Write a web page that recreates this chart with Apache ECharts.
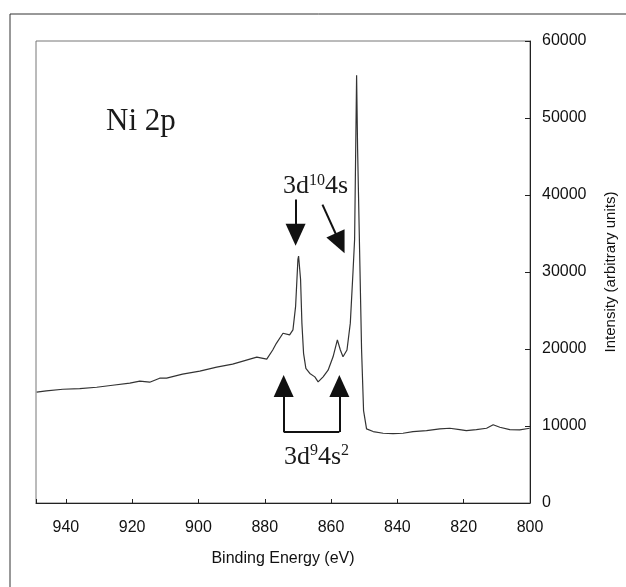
<!DOCTYPE html>
<html>
<head>
<meta charset="utf-8">
<script src="https://cdn.jsdelivr.net/npm/echarts@6/dist/echarts.min.js"></script>
<style>
  html, body { margin: 0; padding: 0; background: #fff; }
  #map { width: 626px; height: 587px; }
</style>
</head>
<body>
<div id="map"></div>
<script>
// Ni 2p XPS spectrum
const energy = [948.8, 945.9, 940.9, 935.8, 930.7, 925.9, 920.7, 917.7, 914.7, 911.7,
  909.6, 904.8, 899.6, 894.5, 889.7, 887.6, 884.5, 882.4, 879.4, 877.6,
  876.5, 874.5, 872.5, 871.5, 870.7, 870.0, 869.8, 869.2, 868.8, 868.3,
  867.6, 866.4, 864.9, 863.9, 862.4, 860.9, 859.4, 858.1, 857.2, 856.4,
  855.2, 854.2, 853.4, 852.9, 852.3, 852.0, 851.4, 850.8, 850.2, 849.3,
  847.3, 844.3, 841.3, 838.3, 835.3, 831.2, 827.2, 824.2, 821.2, 819.2,
  816.2, 813.1, 811.1, 809.1, 806.1, 803.1, 800.1];
const intensity = [14400, 14550, 14770, 14860, 15030, 15290, 15560, 15820, 15690, 16210,
  16210, 16730, 17120, 17650, 18040, 18300, 18690, 18950, 18690, 19870,
  20740, 22050, 21830, 22480, 25530, 31630, 32070, 29020, 23360, 19440,
  17480, 16820, 16380, 15730, 16380, 17250, 18990, 21180, 19870, 18990,
  19870, 23360, 29900, 34250, 55560, 46000, 32900, 19900, 12000, 9630,
  9280, 9060, 9020, 9060, 9280, 9410, 9630, 9710, 9540, 9410,
  9540, 9710, 10160, 9840, 9540, 9500, 9710];

// annotations (data coordinates)
const labelTexts = ['{n|3d}{s|10}{n|4s}', '{n|3d}{s|9}{n|4s}{s|2}'];
const labelCoords = [[864.7, 41090], [864.4, 5980]];
const arrowLines = [
  [[870.7, 39400], [870.7, 34850]],
  [[862.6, 38750], [857.3, 33730]],
  [[874.3, 9230], [874.3, 15210]],
  [[857.5, 9230], [857.5, 15210]]
];
const bracketLine = [[874.3, 9230], [857.5, 9230]];

const sansFont = 'Liberation Sans';
const serifFont = 'Liberation Serif';

let markLines = arrowLines.map(function (l) {
  return [{ coord: l[0], symbol: 'none' }, { coord: l[1], symbol: 'triangle' }];
});
markLines.push([{ coord: bracketLine[0], symbol: 'none' }, { coord: bracketLine[1], symbol: 'none' }]);

let option = {
  animation: false,
  title: {
    text: 'Ni 2p',
    left: 106,
    top: 106,
    padding: 0,
    textStyle: { fontFamily: serifFont, fontSize: 31, fontWeight: 'normal', color: '#1a1a1a' }
  },
  grid: {
    left: 36, right: 93, top: 41, bottom: 84,
    show: true, borderColor: '#777', borderWidth: 1
  },
  xAxis: {
    type: 'value',
    inverse: true,
    min: 800,
    max: 949,
    interval: 20,
    name: 'Binding Energy (eV)',
    nameLocation: 'middle',
    nameGap: 48,
    nameTextStyle: { fontFamily: sansFont, fontSize: 16, color: '#111' },
    axisLine: { show: true, lineStyle: { color: '#222', width: 1 } },
    axisTick: { show: true, inside: true, length: 4, lineStyle: { color: '#222' } },
    axisLabel: {
      margin: 17,
      fontFamily: sansFont, fontSize: 16, color: '#111',
      formatter: function (v) { return v % 20 === 0 ? String(v) : ''; }
    },
    splitLine: { show: false }
  },
  yAxis: {
    type: 'value',
    position: 'right',
    min: 0,
    max: 60000,
    interval: 10000,
    name: 'Intensity (arbitrary units)',
    nameLocation: 'middle',
    nameRotate: 90,
    nameGap: 73,
    nameTextStyle: { fontFamily: sansFont, fontSize: 15, color: '#111' },
    axisLine: { show: true, lineStyle: { color: '#222', width: 1 } },
    axisTick: { show: true, inside: true, length: 5, lineStyle: { color: '#222' } },
    axisLabel: {
      margin: 12,
      fontFamily: sansFont, fontSize: 16, color: '#111',
      formatter: function (v) { return String(v); }
    },
    splitLine: { show: false }
  },
  graphic: [{
    type: 'rect',
    shape: { x: 10, y: 14, width: 700, height: 700 },
    style: { fill: 'none', stroke: '#333', lineWidth: 1 },
    silent: true
  }],
  series: [{
    type: 'line',
    data: energy.map(function (e, i) { return [e, intensity[i]]; }),
    symbol: 'none',
    lineStyle: { color: '#333', width: 1.2 },
    markLine: {
      silent: true,
      symbolSize: [20, 22],
      label: { show: false },
      lineStyle: { color: '#111', width: 2, type: 'solid' },
      emphasis: { disabled: true },
      data: markLines
    },
    markPoint: {
      silent: true,
      symbol: 'circle',
      symbolSize: 0,
      label: {
        show: true,
        position: 'inside',
        color: '#1a1a1a',
        rich: {
          n: { fontFamily: serifFont, fontSize: 26, lineHeight: 28, color: '#1a1a1a' },
          s: { fontFamily: serifFont, fontSize: 16, lineHeight: 16, verticalAlign: 'top', color: '#1a1a1a' }
        }
      },
      data: labelCoords.map(function (c, i) {
        return { coord: c, label: { formatter: labelTexts[i] } };
      })
    }
  }]
};

let myChart = echarts.init(document.getElementById('map'));
myChart.setOption(option);
</script>
</body>
</html>
